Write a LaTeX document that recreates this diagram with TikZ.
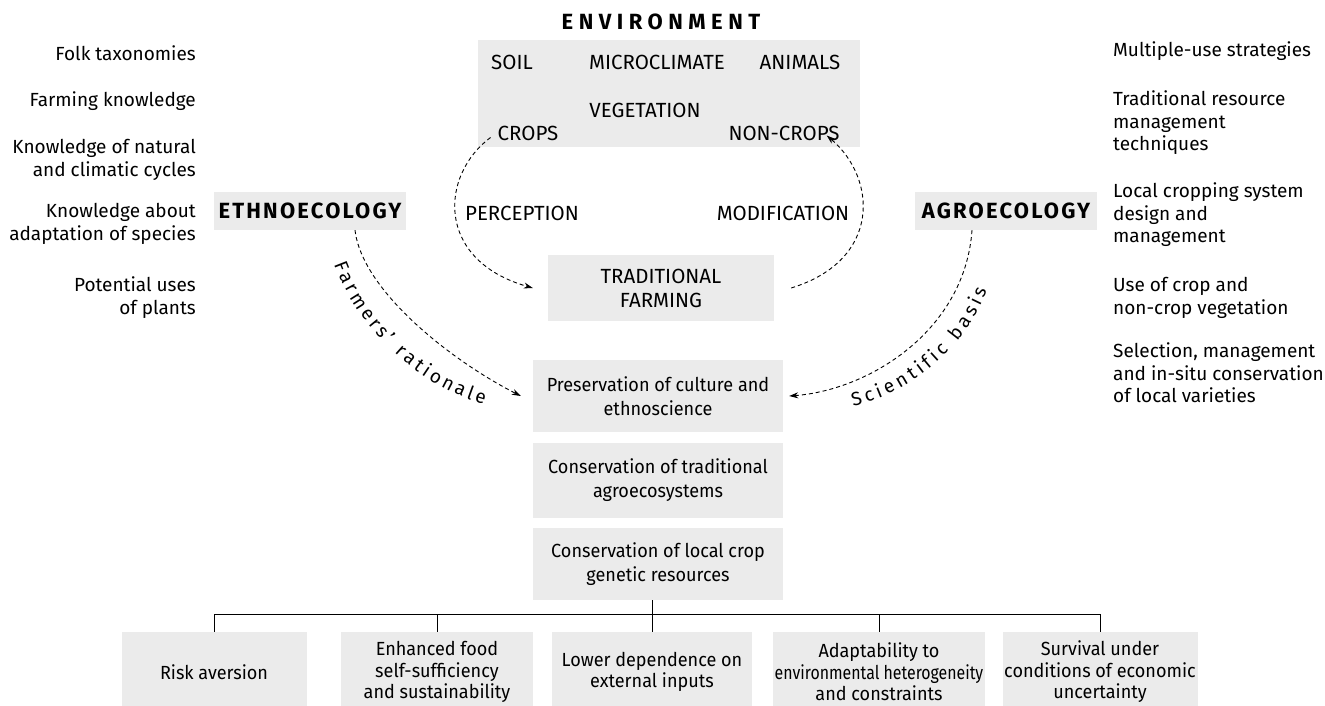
\documentclass[tikz,border=0pt]{standalone}
\usepackage{fontspec}
\setmainfont{Fira Sans}
\newfontfamily\condfont{Fira Sans}[FakeStretch=0.95]
\usetikzlibrary{decorations.text,arrows.meta}
\tikzset{
  stip/.style={fill=black!8, draw=none},
  caps/.style={font=\fontsize{20.5}{24}\selectfont, inner sep=1pt},
  ltext/.style={font=\fontsize{19}{23}\selectfont, align=right, anchor=east, inner sep=0pt},
  rtext/.style={font=\fontsize{19}{22.5}\selectfont, align=left, anchor=west, inner sep=0pt},
  cbox/.style={stip, font=\condfont\fontsize{19}{23.5}\selectfont, align=center, minimum width=250pt, minimum height=72pt, inner sep=0pt},
  bbox/.style={stip, font=\condfont\fontsize{19}{21.5}\selectfont, align=center, minimum height=80pt, inner sep=0pt},
  bigbold/.style={font=\fontsize{22}{26}\selectfont\bfseries\addfontfeature{LetterSpace=10}},
  flow/.style={dash pattern=on 4pt off 3pt, line width=0.9pt, -{Stealth[length=9pt,width=6pt]}},
  tree/.style={line width=1pt},
}
\begin{document}
\begin{tikzpicture}[x=1pt,y=-1pt]
\useasboundingbox (0,0) rectangle (1325,706);

% ---- environment
\node[font=\fontsize{22}{26}\selectfont\bfseries\addfontfeature{LetterSpace=25}] (envt) at (661,22) {ENVIRONMENT};
\node[stip, minimum width=382pt, minimum height=107pt] (envbox) at (669,93.5) {};
\node[caps] (soil) at (512,62) {SOIL};
\node[caps] (micro) at (657,62) {MICROCLIMATE};
\node[caps] (animals) at (800,62) {ANIMALS};
\node[caps] (veg) at (645,110) {VEGETATION};
\node[caps] (crops) at (528,133) {CROPS};
\node[caps] (noncrops) at (784,133) {NON-CROPS};

% ---- side labels
\node[stip, bigbold, minimum width=192pt, minimum height=38pt] (ethno) at (310,211) {ETHNOECOLOGY};
\node[stip, bigbold, minimum width=182pt, minimum height=38pt] (agro) at (1006,211) {AGROECOLOGY};

\node[caps] (perc) at (522,213) {PERCEPTION};
\node[caps] (modif) at (783,213) {MODIFICATION};

% ---- central boxes
\node[stip, caps, align=center, minimum width=226pt, minimum height=66pt] (trad) at (661,288) {TRADITIONAL\\FARMING};
\node[cbox, minimum height=72pt] (pres) at (658,396) {Preservation of culture and\\ethnoscience};
\node[cbox, minimum height=75pt] (cons1) at (658,480) {Conservation of traditional\\agroecosystems};
\node[cbox, minimum height=72pt] (cons2) at (658,564) {Conservation of local crop\\genetic resources};

% ---- left list
\node[ltext] (l1) at (196,53) {Folk taxonomies};
\node[ltext] (l2) at (196,101) {Farming knowledge};
\node[ltext] (l3) at (196,160) {Knowledge of natural\\and climatic cycles};
\node[ltext] (l4) at (196,224) {Knowledge about\\adaptation of species};
\node[ltext] (l5) at (196,298) {Potential uses\\of plants};

% ---- right list
\node[rtext] (r1) at (1113,51) {Multiple-use strategies};
\node[rtext] (r2) at (1113,123) {Traditional resource\\management\\techniques};
\node[rtext] (r3) at (1113,215) {Local cropping system\\design and\\management};
\node[rtext] (r4) at (1113,298) {Use of crop and\\non-crop vegetation};
\node[rtext] (r5) at (1113,373) {Selection, management\\and in-situ conservation\\of local varieties};

% ---- bottom
\node[bbox, minimum width=185pt] (b1) at (214,672) {Risk aversion};
\node[bbox, minimum width=192pt] (b2) at (437,672) {Enhanced food\\self-sufficiency\\and sustainability};
\node[bbox, minimum width=200pt] (b3) at (652,672) {Lower dependence on\\external inputs};
\node[bbox, minimum width=212pt] (b4) at (879,672) {Adaptability to\\\scalebox{0.88}[1]{environmental heterogeneity}\\and constraints};
\node[bbox, minimum width=195pt] (b5) at (1100,672) {Survival under\\conditions of economic\\uncertainty};

% ---- loop arrows
\coordinate (pA) at ([shift={(-6pt,4pt)}]crops.south west);
\coordinate (pB) at ([xshift=-15pt]trad.west);
\draw[flow] (pA) .. controls (440,175) and (435,260) .. (pB);
\coordinate (mA) at ([xshift=17pt]trad.east);
\coordinate (mB) at ([shift={(-14pt,6pt)}]noncrops.south east);
\draw[flow] (mA) .. controls (882,260) and (877,178) .. (mB);

% ---- rationale / basis arrows
\coordinate (fA) at ([xshift=45pt]ethno.south);
\coordinate (fB) at ([xshift=-12pt]pres.west);
\draw[flow] (fA) .. controls (362,290) and (450,360) .. (fB);
\coordinate (sA) at ([xshift=-34pt]agro.south);
\coordinate (sB) at ([xshift=6pt]pres.east);
\draw[flow] (sA) .. controls (965,330) and (870,390) .. (sB);

\path[decorate, decoration={text along path, text align=fit to path,
  text={|\fontsize{19}{23}\selectfont|Farmers' rationale}}]
  (334,264) .. controls (358,330) and (420,387) .. (484,404);
\path[decorate, decoration={text along path, text align=fit to path,
  text={|\fontsize{19}{23}\selectfont|Scientific basis}}]
  (853,406) .. controls (915,392) and (966,345) .. (987,290);

% ---- tree
\draw[tree] (b1.north) -- ++(0,-17) -| (b5.north);
\draw[tree] (cons2.south -| b3.north) -- (b3.north);
\draw[tree] (b2.north) -- ++(0,-17);
\draw[tree] (b4.north) -- ++(0,-17);
\end{tikzpicture}
\end{document}
